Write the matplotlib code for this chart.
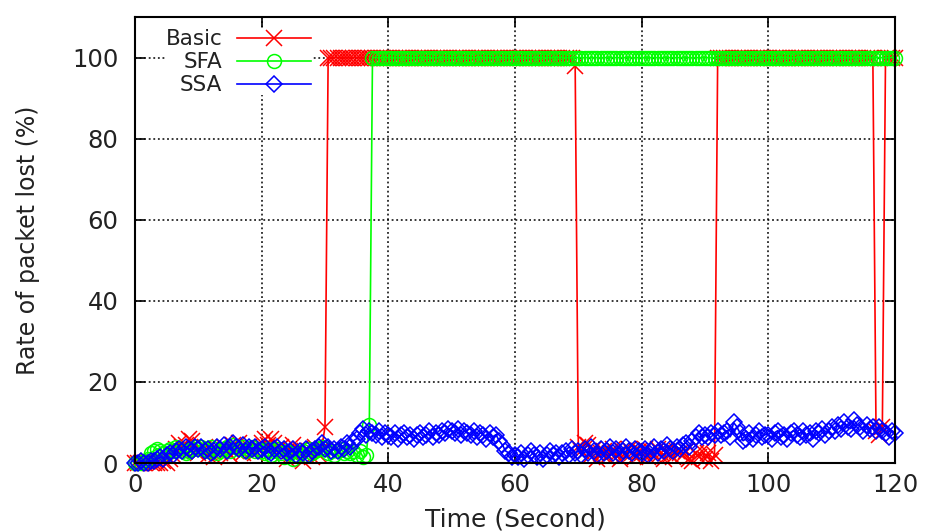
import numpy as np
import matplotlib
matplotlib.use('Agg')
import matplotlib.pyplot as plt

# sample times (one sample every 0.5 s, 0..120 s)
time = np.arange(0, 120.5, 0.5)

# Basic: packet loss rate (%)
basic = (
    [0, 0, 0, 0, 0.5, 0, 0, 0, 0, 0.5, 0, 1, 2, 3.5, 5, 4, 4.5, 6, 5.5, 3,
     2.5, 3.5, 4, 2, 3, 1.5, 3.5, 2.5, 4, 3, 2, 4.5, 3, 5, 2.5, 3.5, 4, 3, 2.5, 3.5,
     5, 6, 4.5, 6, 5, 3.5, 4, 2.5, 1, 3, 4.5, 2, 3.5, 0.5, 2.5, 3, 1.5, 4, 2, 3.5,
     9]
    + [100] * 78
    + [98,
       4, 3, 5, 4.5, 2, 3.5, 1, 2.5, 3, 1.5, 2.5, 3.5, 2, 1, 3, 2, 3.5, 2.5, 1.5, 3,
       2.5, 3.5, 1.5, 3, 2, 3.5, 2.5, 1, 3, 2, 1.5, 3, 2.5, 2, 3, 1, 0.5, 2.5, 1.5, 3,
       1, 2.5, 0.5, 2]
    + [100] * 50
    + [8, 7, 9]
    + [100] * 4
)

# SFA: packet loss rate (%)
sfa = (
    [0, 0, 0, 0.5, 1, 2.5, 3, 3.5, 3, 2.5, 3, 3.5, 3, 4, 3.5, 3, 2.5, 3, 3.5, 4,
     3.5, 4, 3.5, 3, 4, 3.5, 2.5, 3, 3.5, 4, 3, 4.5, 4, 3.5, 4, 3, 3.5, 4, 3, 3.5,
     3, 2.5, 3.5, 2, 3, 3.5, 2.5, 1.5, 3, 2.5, 1, 2, 2.5, 3, 2, 3.5, 2.5, 3, 3.5, 4,
     3.5, 2.5, 3, 2, 3, 3.5, 2.5, 3, 2.5, 3, 2, 3, 1.5, 2, 9.5]
    + [100] * 166
)

# SSA: packet loss rate (%)
ssa = [
    0, 0, 0.5, 0, 0, 0.5, 0.5, 1, 1.5, 1, 2, 2.5, 2, 3, 3.5, 3, 4, 3.5, 3, 4,
    3.5, 4, 3, 3.5, 2.5, 3, 4, 3.5, 4.5, 3, 4, 5, 4, 3.5, 4.5, 3, 4, 3.5, 4, 3,
    3.5, 4, 3, 2.5, 3.5, 4, 3, 3.5, 2.5, 3, 3.5, 2, 3, 2.5, 3.5, 2, 3, 3.5, 4, 5,
    3.5, 4, 3, 3.5, 3, 4, 3.5, 5, 4, 5.5, 6, 7.5, 8.5, 7, 8, 7.5, 7, 8, 6.5, 7.5,
    7, 6.5, 7.5, 6, 7, 7.5, 6.5, 7, 6, 7, 7.5, 6.5, 7, 8, 6.5, 7.5, 7, 8, 7.5, 8.5,
    8, 7.5, 8.5, 7, 8, 7.5, 7, 8, 6.5, 7.5, 7, 6, 7.5, 6.5, 7, 5.5, 4.5, 3, 2.5, 1.5,
    2, 1.5, 2.5, 1, 2, 3, 2, 1.5, 2.5, 1, 2, 3, 2, 2.5, 1.5, 2.5, 3, 2, 3.5, 2.5,
    3, 2, 3.5, 2.5, 4, 3, 2, 3.5, 2.5, 3, 4, 2.5, 3.5, 2, 3, 4, 3, 2.5, 3.5, 3,
    2.5, 3.5, 2, 3, 4, 2.5, 3.5, 3, 4.5, 3.5, 3, 4, 3.5, 4.5, 5, 4, 5.5, 6.5, 7.5, 6.5,
    7, 6.5, 7.5, 7, 8, 7, 7.5, 8, 6.5, 10, 9, 7.5, 5.5, 6, 7.5, 6, 7, 8, 6.5, 7,
    7, 6, 7.5, 8, 6.5, 7, 6, 7.5, 8, 7, 6.5, 8, 7, 7.5, 6, 8, 7.5, 8.5, 7, 8,
    9, 8, 9.5, 8.5, 10, 9, 8.5, 10.5, 9.5, 9, 8, 9.5, 8.5, 9, 8, 9, 8, 7.5, 6.5, 8,
    7.5,
]

x_ticks = [0, 20, 40, 60, 80, 100, 120]
y_ticks = [0, 20, 40, 60, 80, 100]

fig, ax = plt.subplots(figsize=(9.27, 5.31), dpi=100)
fig.subplots_adjust(left=0.1456, right=0.9655, bottom=0.128, top=0.968)

ax.plot(time, basic, color='#ff0000', marker='x', markersize=11, markeredgewidth=1.1,
        linewidth=1.2, label='Basic', clip_on=False)
ax.plot(time, sfa, color='#00ff00', marker='o', markersize=10, markerfacecolor='none',
        markeredgewidth=1.1, linewidth=1.2, label='SFA', clip_on=False)
ax.plot(time, ssa, color='#0000ff', marker='D', markersize=8.5, markerfacecolor='none',
        markeredgewidth=1.1, linewidth=1.2, label='SSA', clip_on=False)

ax.set_xlim(0, 120)
ax.set_ylim(0, 110)
ax.set_xticks(x_ticks)
ax.set_yticks(y_ticks)
ax.tick_params(direction='in', length=7, width=1.2, top=True, right=True,
               labelsize=17.5, labelcolor='#222222')
ax.tick_params(axis='x', pad=7)
ax.tick_params(axis='y', pad=12)
ax.grid(True, linestyle=(0, (1.2, 1.8)), color='black', linewidth=1.1)
ax.set_axisbelow(True)
for s in ax.spines.values():
    s.set_linewidth(1.5)

ax.set_xlabel('Time (Second)', fontsize=18, labelpad=8, color='#222222')
ax.set_ylabel('Rate of packet lost (%)', fontsize=17, labelpad=23, color='#222222')

leg = ax.legend(loc='upper left', bbox_to_anchor=(0.026, 0.997), markerfirst=False,
                fontsize=15.5, handlelength=3.4, handletextpad=0.7, labelspacing=0.14,
                borderpad=0.0, frameon=True, fancybox=False, framealpha=1,
                facecolor='white', edgecolor='none')
for t in leg.get_texts():
    t.set_color('#222222')

plt.savefig('out.png', dpi=100)
plt.close()
